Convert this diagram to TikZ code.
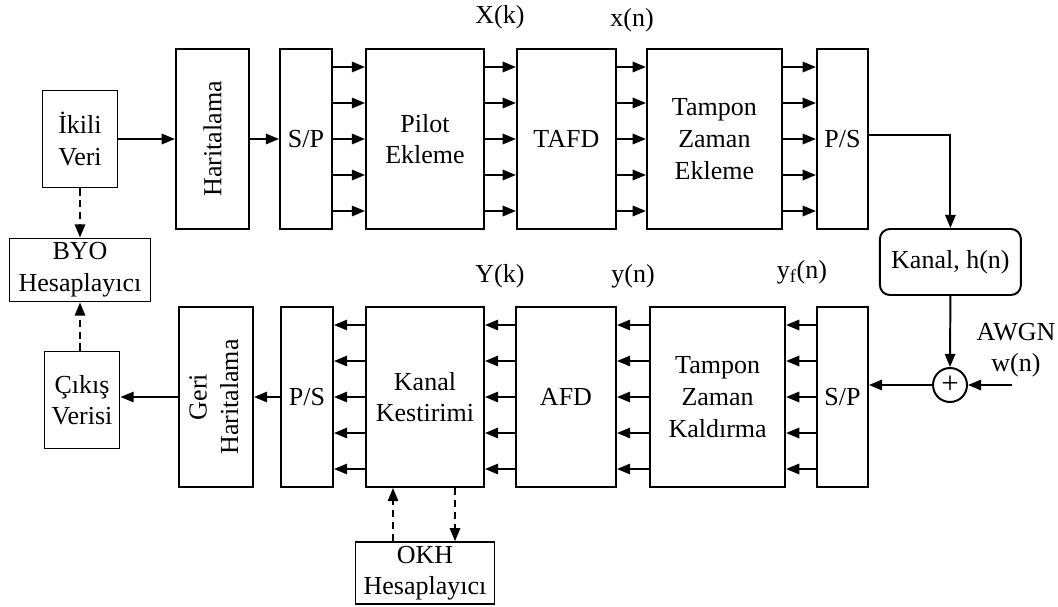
\documentclass[tikz,border=0pt]{standalone}
\usepackage{fontspec}
\setmainfont{Liberation Serif}
\usetikzlibrary{arrows.meta,positioning,calc}

\begin{document}
\begin{tikzpicture}[
  font=\fontsize{18.5}{22.5}\selectfont,
  blk/.style={rectangle,draw,line width=1.4pt,align=center,inner sep=2pt},
  tall/.style={blk,minimum height=4.5cm},
  small/.style={blk,minimum width=1.875cm,minimum height=2.425cm},
  hesap/.style={blk,minimum width=3.525cm,minimum height=1.575cm,inner sep=0pt},
  arr/.style={-{Triangle[length=3.3mm,width=2.6mm]},line width=1.4pt},
  dasharr/.style={arr,dash pattern=on 5pt off 3.5pt}
]
  \useasboundingbox (0,0) rectangle (26.45,-15.15);

  % ---- Transmitter (top row) ------------------------------------
  \node[small] (ikili) at (2.0,-3.475) {İkili\\Veri};
  \node[hesap] (byo) at (2.0,-6.75) {BYO\\Hesaplayıcı};
  \node[tall,minimum width=1.825cm] (harita) at (5.31,-3.475)
    {\rotatebox{90}{Haritalama}};
  \node[tall,minimum width=1.3cm] (sp1) at (7.65,-3.475) {S/P};
  \node[tall,minimum width=2.95cm] (pilot) at (10.625,-3.475) {Pilot\\Ekleme};
  \node[tall,minimum width=2.475cm] (tafd) at (14.16,-3.475) {TAFD};
  \node[tall,minimum width=3.375cm] (tze) at (17.86,-3.475)
    {Tampon\\Zaman\\Ekleme};
  \node[tall,minimum width=1.275cm] (ps1) at (21.06,-3.475) {P/S};

  \node (Xk) at (12.5,-0.44) {X(k)};
  \node (xn) at (15.8,-0.5) {x(n)};

  % ---- Channel ---------------------------------------------------
  \node[blk,rounded corners=0.25cm,minimum width=3.525cm,minimum height=1.65cm]
    (kanal) at (23.76,-6.55) {Kanal, h(n)};
  \node[circle,draw,line width=1.4pt,minimum size=0.85cm,inner sep=0pt,
        font=\fontsize{22}{22}\selectfont]
    (sum) at (23.75,-9.625) {+};
  \node[align=center] (awgn) at (25.4,-8.75) {AWGN\\w(n)};
  \coordinate (wn) at (25.3,-9.625);

  % ---- Receiver (bottom row) -------------------------------------
  \node[tall,minimum width=1.275cm] (sp2) at (21.06,-9.925) {S/P};
  \node[tall,minimum width=3.375cm] (tzk) at (17.94,-9.925)
    {Tampon\\Zaman\\Kaldırma};
  \node[tall,minimum width=2.5cm] (afd) at (14.15,-9.925) {AFD};
  \node[tall,minimum width=2.95cm] (kk) at (10.625,-9.925) {Kanal\\Kestirimi};
  \node[tall,minimum width=1.3cm] (ps2) at (7.675,-9.925) {P/S};
  \node[tall,minimum width=1.85cm] (geri) at (5.4,-9.925)
    {\rotatebox{90}{\begin{tabular}{@{}c@{}}Geri\\Haritalama\end{tabular}}};
  \node[small] (cikis) at (2.05,-10.0) {Çıkış\\Verisi};
  \node[hesap,minimum width=3.475cm,minimum height=1.55cm] (okh)
    at (10.625,-14.33) {OKH\\Hesaplayıcı};

  \node (Yk) at (12.5,-6.9) {Y(k)};
  \node (yn) at (15.825,-6.9) {y(n)};
  \node (yfn) at (20.05,-6.8) {y\textsubscript{f}(n)};

  % ---- Connections -----------------------------------------------
  \draw[arr] (ikili.east) -- (harita.west);
  \draw[arr] (harita.east) -- (sp1.west);
  \draw[dasharr] (ikili.south) -- (byo.north);
  \foreach \o in {-1.8,-0.9,0,0.9,1.8}{
    \draw[arr] ([yshift=\o cm]sp1.east) -- ([yshift=\o cm]pilot.west);
    \draw[arr] ([yshift=\o cm]pilot.east) -- ([yshift=\o cm]tafd.west);
    \draw[arr] ([yshift=\o cm]tafd.east) -- ([yshift=\o cm]tze.west);
    \draw[arr] ([yshift=\o cm]tze.east) -- ([yshift=\o cm]ps1.west);
  }
  \draw[arr] ([yshift=0.1cm]ps1.east) -| (kanal.north);
  \draw[arr] (kanal.south) -- (sum.north);
  \draw[arr] (wn) -- (sum.east);
  \draw[arr] (sum.west) -- (sum.west -| sp2.east);
  \foreach \o in {-1.8,-0.9,0,0.9,1.8}{
    \draw[arr] ([yshift=\o cm]sp2.west) -- ([yshift=\o cm]tzk.east);
    \draw[arr] ([yshift=\o cm]tzk.west) -- ([yshift=\o cm]afd.east);
    \draw[arr] ([yshift=\o cm]afd.west) -- ([yshift=\o cm]kk.east);
    \draw[arr] ([yshift=\o cm]kk.west) -- ([yshift=\o cm]ps2.east);
  }
  \draw[arr] (ps2.west) -- (geri.east);
  \draw[arr] (geri.west) -- (geri.west -| cikis.east);
  \draw[dasharr] (cikis.north -| byo.south) -- (byo.south);
  \draw[dasharr] ([xshift=-0.8cm]okh.north) -- ([xshift=-0.8cm]kk.south);
  \draw[dasharr] ([xshift=0.75cm]kk.south) -- ([xshift=0.75cm]okh.north);

\end{tikzpicture}
\end{document}
